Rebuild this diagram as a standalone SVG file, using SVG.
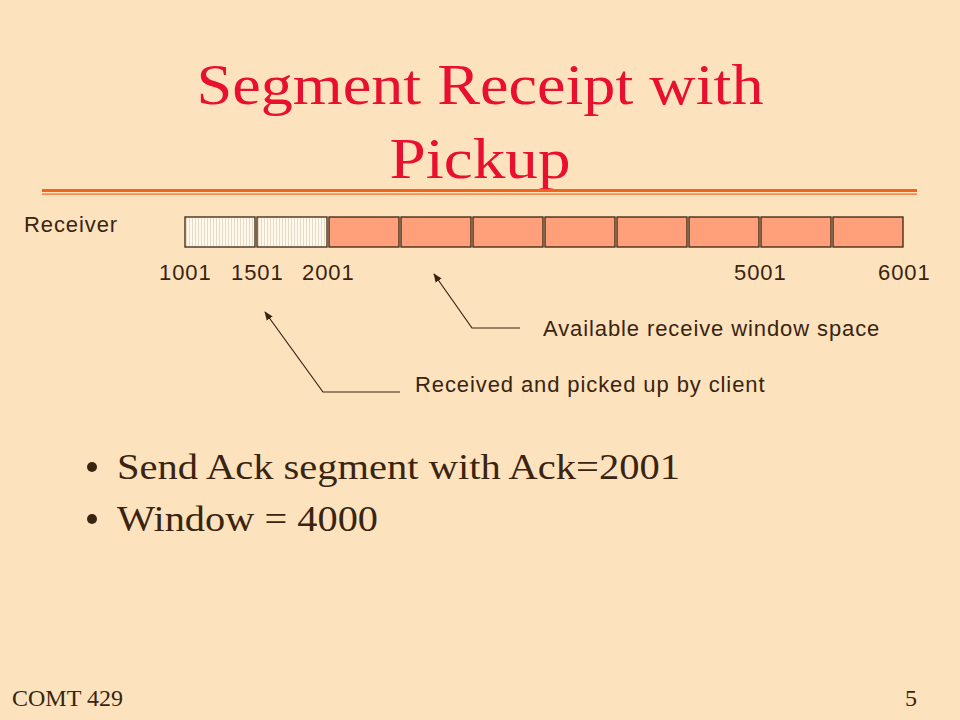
<svg xmlns="http://www.w3.org/2000/svg" width="960" height="720" viewBox="0 0 960 720">
  <defs>
    <pattern id="stripes" width="3" height="4" patternUnits="userSpaceOnUse">
      <rect width="3" height="4" fill="#FFF8EC"/>
      <rect x="0" width="1" height="4" fill="#EADAC2"/>
    </pattern>
    <marker id="arrow" viewBox="0 0 10 10" refX="9" refY="5" markerWidth="9" markerHeight="9" markerUnits="userSpaceOnUse" orient="auto">
      <path d="M0,1 L10,5 L0,9 z" fill="#3A2410"/>
    </marker>
    <style>
      .title { font-family: "Liberation Serif", "Times New Roman", serif; font-size: 57px; fill: #E8102E; }
      .label { font-family: "Liberation Sans", Arial, sans-serif; font-size: 22px; fill: #3A2410; letter-spacing: 0.9px; }
      .bullet { font-family: "Liberation Serif", "Times New Roman", serif; font-size: 36px; fill: #3A2410; }
      .footer { font-family: "Liberation Serif", "Times New Roman", serif; font-size: 24px; fill: #3A2410; }
      .seg { stroke: #3A2410; stroke-width: 1.3; }
      .used { fill: url(#stripes); }
      .free { fill: #FFA07A; }
      .conn { fill: none; stroke: #3A2410; stroke-width: 1.2; }
    </style>
  </defs>

  <rect width="960" height="720" fill="#FCE3BD"/>

  <g id="title">
    <text class="title" x="480" y="104" text-anchor="middle" textLength="567" lengthAdjust="spacingAndGlyphs">Segment Receipt with</text>
    <text class="title" x="480" y="178" text-anchor="middle" textLength="181" lengthAdjust="spacingAndGlyphs">Pickup</text>
    <rect x="42" y="189" width="875" height="3" fill="#F0651E"/>
    <rect x="42" y="193.5" width="875" height="1.2" fill="#F0651E"/>
  </g>

  <g id="receiver-label">
    <text class="label" x="24" y="232">Receiver</text>
  </g>

  <g id="buffer">
    <rect class="seg used" x="185" y="217" width="70" height="30"/>
    <rect class="seg used" x="257" y="217" width="70" height="30"/>
    <rect class="seg free" x="329" y="217" width="70" height="30"/>
    <rect class="seg free" x="401" y="217" width="70" height="30"/>
    <rect class="seg free" x="473" y="217" width="70" height="30"/>
    <rect class="seg free" x="545" y="217" width="70" height="30"/>
    <rect class="seg free" x="617" y="217" width="70" height="30"/>
    <rect class="seg free" x="689" y="217" width="70" height="30"/>
    <rect class="seg free" x="761" y="217" width="70" height="30"/>
    <rect class="seg free" x="833" y="217" width="70" height="30"/>
  </g>

  <g id="sequence-numbers">
    <text class="label" x="159" y="280">1001</text>
    <text class="label" x="231" y="280">1501</text>
    <text class="label" x="302" y="280">2001</text>
    <text class="label" x="734" y="280">5001</text>
    <text class="label" x="878" y="280">6001</text>
  </g>

  <g id="connectors">
    <polyline class="conn" points="520,328 472,328 434,274" marker-end="url(#arrow)"/>
    <polyline class="conn" points="400,392 323,392 265,312" marker-end="url(#arrow)"/>
  </g>

  <g id="label-available">
    <text class="label" x="543" y="336">Available receive window space</text>
  </g>
  <g id="label-received">
    <text class="label" x="415" y="392">Received and picked up by client</text>
  </g>

  <g id="bullets">
    <circle cx="92" cy="467" r="5" fill="#3A2410"/>
    <text class="bullet" x="117" y="479" textLength="563" lengthAdjust="spacingAndGlyphs">Send Ack segment with Ack=2001</text>
    <circle cx="92" cy="519" r="5" fill="#3A2410"/>
    <text class="bullet" x="117" y="531" textLength="261" lengthAdjust="spacingAndGlyphs">Window = 4000</text>
  </g>

  <g id="footer">
    <text class="footer" x="12" y="706">COMT 429</text>
    <text class="footer" x="917" y="706" text-anchor="end">5</text>
  </g>
</svg>
